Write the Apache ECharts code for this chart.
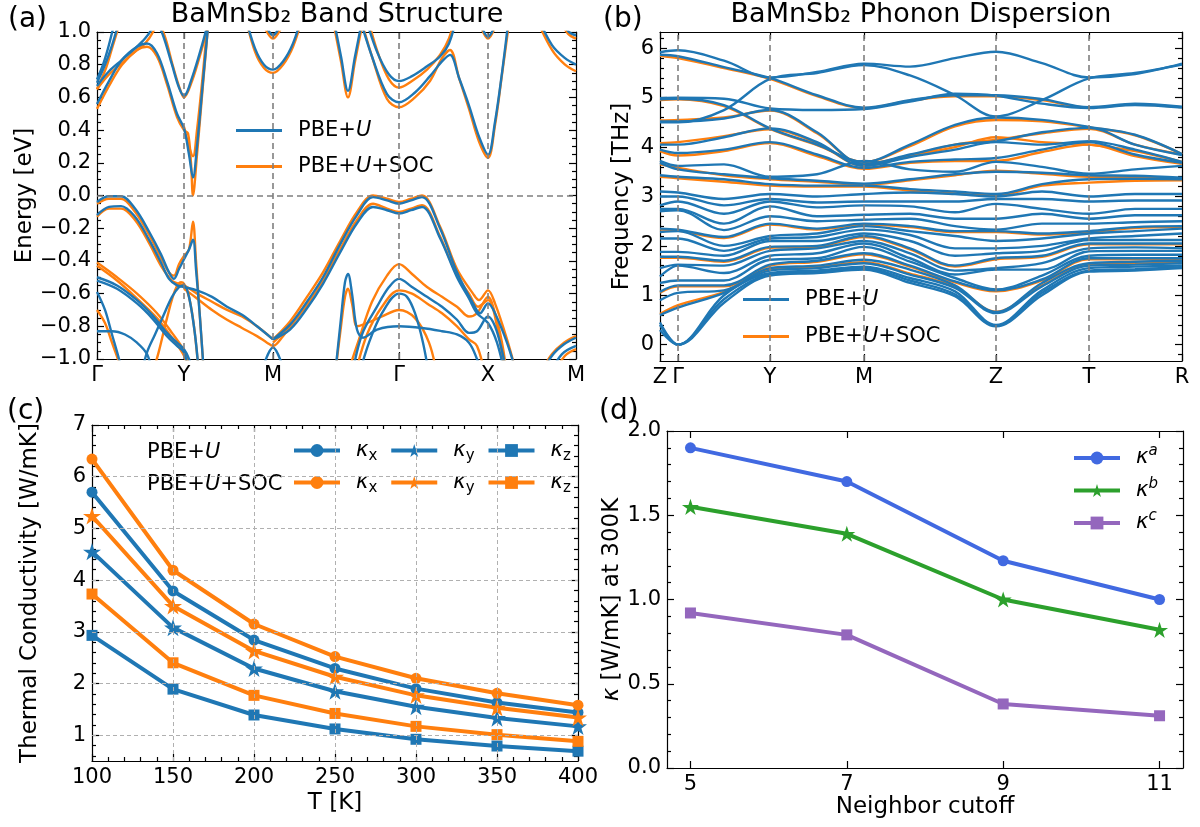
<!DOCTYPE html>
<html><head><meta charset="utf-8">
<script src="https://cdn.jsdelivr.net/npm/echarts@6/dist/echarts.min.js"></script>
<style>html,body{margin:0;padding:0;background:#fff}#c{width:1200px;height:827px}</style>
</head><body><div id="c"></div>
<script>
// ---------------- DATA ----------------
// (a) band structure: k-path positions and labels
const kPos = [0, 87, 176, 302, 391, 479];
const kLabels = ['Γ', 'Y', 'M', 'Γ', 'X', 'M'];
// bands as [k, E(eV)] points
const bandsPBE = [
 [[0,0.69],[8,0.8],[14,0.9],[20,1.02],[26,1.15]],
 [[0,0.71],[6,0.8],[11,0.9],[16,1.02],[21,1.15]],
 [[0,0.56],[12,0.70],[25,0.83],[40,0.91],[50,0.93],[60,0.87],[70,0.70],[80,0.50],[87,0.41],[92,0.25],[96,0.11],[100,0.30],[106,0.70],[112,1.10]],
 [[0,0.67],[12,0.76],[25,0.83],[38,0.90],[48,0.96],[55,1.02],[61,1.1]],
 [[57,1.1],[66,0.98],[75,0.80],[82,0.66],[87,0.61],[95,0.72],[105,0.92],[113,1.1]],
 [[148,1.1],[158,0.90],[167,0.80],[176,0.77],[186,0.82],[196,0.93],[205,1.1]],
 [[166,1.08],[176,0.98],[186,1.08]],
 [[236,1.1],[244,0.85],[251,0.64],[258,0.85],[266,1.1]],
 [[268,1.1],[280,0.88],[292,0.74],[302,0.70],[315,0.73],[330,0.79],[343,0.85],[352,0.93],[360,1.1]],
 [[262,1.1],[275,0.85],[290,0.62],[302,0.57],[318,0.63],[333,0.73],[345,0.82],[353,0.86],[362,0.72],[372,0.55],[382,0.36],[391,0.25],[398,0.45],[405,0.75],[412,1.1]],
 [[381,1.1],[391,0.97],[401,1.1]],
 [[440,1.1],[455,0.92],[468,0.84],[479,0.80]],
 [[462,1.1],[472,1.0],[479,0.98]],
 [[0,-0.04],[12,-0.005],[24,-0.005],[38,-0.08],[52,-0.22],[64,-0.36],[72,-0.47],[77,-0.51],[82,-0.45],[87,-0.39],[92,-0.33],[96,-0.27],[99,-0.45],[103,-0.75],[107,-1.1]],
 [[0,-0.12],[12,-0.07],[24,-0.065],[38,-0.13],[52,-0.27],[64,-0.41],[72,-0.51],[80,-0.55],[87,-0.56],[100,-0.58],[115,-0.62],[130,-0.68],[145,-0.73],[160,-0.80],[176,-0.88]],
 [[0,-0.50],[20,-0.55],[40,-0.64],[55,-0.73],[70,-0.84],[80,-0.90],[87,-0.94],[92,-1.0],[96,-1.1]],
 [[0,-0.52],[20,-0.57],[40,-0.66],[55,-0.75],[70,-0.86],[80,-0.92],[87,-0.96],[92,-1.1]],
 [[44,-1.1],[50,-0.96],[58,-0.85],[66,-0.74],[75,-0.62],[82,-0.56],[87,-0.55],[92,-0.62],[98,-0.85],[102,-1.1]],
 [[0,-0.59],[8,-0.70],[15,-0.85],[22,-1.0],[26,-1.1]],
 [[0,-0.83],[15,-0.83],[28,-0.85],[40,-0.90],[50,-0.97],[56,-1.1]],
 [[166,-1.05],[176,-0.93],[186,-1.05]],
 [[176,-0.88],[193,-0.79],[210,-0.65],[226,-0.50],[243,-0.30],[260,-0.12],[276,-0.01],[290,-0.03],[302,-0.05],[314,-0.03],[325,-0.01],[343,-0.20],[360,-0.47],[376,-0.66],[383,-0.72],[391,-0.66],[398,-0.72],[410,-0.90],[420,-1.1]],
 [[176,-0.88],[193,-0.82],[210,-0.69],[226,-0.54],[243,-0.35],[260,-0.17],[276,-0.07],[290,-0.09],[302,-0.11],[314,-0.09],[325,-0.07],[343,-0.26],[360,-0.50],[372,-0.63],[380,-0.72],[391,-0.78],[400,-0.90],[408,-1.1]],
 [[238,-1.1],[244,-0.75],[248,-0.53],[251,-0.48],[255,-0.60],[260,-0.82],[266,-0.87],[280,-0.82],[302,-0.80],[325,-0.81],[345,-0.83],[360,-0.85],[372,-0.90],[380,-1.0],[385,-1.1]],
 [[255,-1.1],[265,-0.85],[280,-0.68],[292,-0.56],[302,-0.51],[315,-0.56],[330,-0.62],[345,-0.68],[360,-0.76],[372,-0.84],[380,-0.83],[391,-0.74],[398,-0.80],[405,-0.95],[410,-1.1]],
 [[262,-1.1],[272,-0.90],[285,-0.72],[302,-0.60],[310,-0.62],[318,-0.72],[326,-0.90],[332,-1.1]],
 [[444,-1.1],[455,-0.98],[467,-0.91],[479,-0.87]],
 [[452,-1.1],[465,-0.97],[479,-0.92]]
];
const bandsSOC = [
 [[0,0.65],[9,0.78],[15,0.9],[21,1.02],[27,1.15]],
 [[0,0.53],[12,0.67],[25,0.80],[40,0.89],[50,0.91],[60,0.85],[70,0.68],[80,0.48],[87,0.40],[91,0.38],[94,0.2],[96,0.0],[100,0.25],[106,0.68],[112,1.1]],
 [[87,0.42],[92,0.3],[96,0.24],[100,0.4],[106,0.75],[111,1.1]],
 [[0,0.65],[12,0.74],[25,0.81],[38,0.88],[48,0.93],[56,1.0],[62,1.1]],
 [[59,1.1],[68,0.97],[76,0.79],[83,0.65],[87,0.60],[95,0.70],[105,0.90],[114,1.1]],
 [[148,1.1],[158,0.88],[167,0.78],[176,0.75],[186,0.80],[196,0.91],[206,1.1]],
 [[164,1.08],[176,0.96],[188,1.08]],
 [[235,1.1],[244,0.82],[251,0.60],[258,0.82],[267,1.1]],
 [[270,1.1],[281,0.87],[292,0.71],[302,0.66],[315,0.70],[330,0.77],[343,0.86],[352,0.96],[358,1.1]],
 [[263,1.1],[276,0.83],[290,0.59],[302,0.54],[318,0.60],[333,0.70],[345,0.84],[353,0.89],[362,0.72],[372,0.53],[382,0.33],[391,0.23],[398,0.43],[405,0.74],[413,1.1]],
 [[380,1.1],[391,0.96],[402,1.1]],
 [[438,1.1],[455,0.89],[468,0.80],[479,0.76]],
 [[460,1.1],[471,0.99],[479,0.96]],
 [[0,-0.05],[12,-0.02],[24,-0.02],[38,-0.10],[52,-0.24],[64,-0.38],[72,-0.47],[77,-0.49],[82,-0.42],[87,-0.37],[92,-0.33],[96,-0.16],[99,-0.40],[103,-0.75],[107,-1.1]],
 [[0,-0.13],[12,-0.08],[24,-0.08],[38,-0.15],[52,-0.29],[64,-0.43],[72,-0.50],[77,-0.53],[87,-0.55],[100,-0.60],[115,-0.65],[130,-0.70],[145,-0.74],[160,-0.80],[176,-0.88]],
 [[87,-0.57],[100,-0.63],[115,-0.70],[130,-0.76],[145,-0.81],[160,-0.86],[170,-0.90],[176,-0.92],[186,-0.86],[196,-0.78],[205,-0.70]],
 [[0,-0.41],[20,-0.50],[40,-0.60],[60,-0.72],[75,-0.84],[87,-0.95],[95,-1.1]],
 [[0,-0.43],[20,-0.52],[40,-0.63],[60,-0.75],[75,-0.87],[87,-0.98],[93,-1.1]],
 [[0,-0.70],[8,-0.78],[15,-0.90],[22,-1.02],[26,-1.1]],
 [[55,-1.1],[62,-0.95],[70,-0.75],[78,-0.58],[84,-0.53],[87,-0.54],[92,-0.62],[97,-0.80],[102,-1.1]],
 [[176,-0.88],[193,-0.77],[210,-0.62],[226,-0.47],[243,-0.28],[260,-0.10],[276,0.0],[290,-0.02],[302,-0.04],[314,-0.02],[325,0.0],[343,-0.19],[360,-0.45],[376,-0.60],[382,-0.64],[391,-0.58],[398,-0.66],[410,-0.88],[420,-1.1]],
 [[176,-0.90],[193,-0.80],[210,-0.67],[226,-0.52],[243,-0.33],[260,-0.15],[276,-0.05],[290,-0.08],[302,-0.10],[314,-0.08],[325,-0.06],[343,-0.25],[360,-0.49],[372,-0.60],[381,-0.68],[391,-0.64],[400,-0.80],[408,-1.1]],
 [[238,-1.1],[244,-0.80],[248,-0.62],[251,-0.57],[255,-0.66],[260,-0.80],[266,-0.79],[285,-0.74],[302,-0.70],[318,-0.75],[332,-0.90],[340,-1.1]],
 [[250,-1.1],[262,-0.88],[275,-0.65],[290,-0.49],[302,-0.42],[315,-0.48],[330,-0.56],[345,-0.62],[360,-0.68],[372,-0.74],[380,-0.72],[391,-0.62],[398,-0.72],[405,-0.90],[410,-1.1]],
 [[258,-1.1],[270,-0.85],[285,-0.68],[302,-0.58],[315,-0.60],[330,-0.66],[345,-0.72],[360,-0.80],[372,-0.88],[380,-0.92],[388,-1.1]],
 [[442,-1.1],[455,-0.97],[467,-0.90],[479,-0.86]],
 [[456,-1.1],[468,-0.98],[479,-0.94]]
];

// (b) phonon dispersion: sample positions along path, high-symmetry points
const phK = [0, 18, 64, 110, 157, 204, 250, 295, 336, 382, 429, 475, 522];
const phHS = [0, 18, 110, 204, 336, 429, 522];
const phLabels = ['Z', 'Γ', 'Y', 'M', 'Z', 'T', 'R'];
// frequencies (THz) at phK for each branch
const phononPBE = [
 [0.30,0.00,0.85,1.40,1.45,1.52,1.25,0.98,0.37,1.00,1.48,1.50,1.55],
 [0.40,0.00,0.92,1.42,1.48,1.55,1.30,1.02,0.38,1.05,1.50,1.53,1.57],
 [0.45,0.00,1.00,1.45,1.50,1.58,1.35,1.08,0.40,1.10,1.55,1.58,1.60],
 [0.60,0.75,1.05,1.50,1.55,1.65,1.42,1.15,0.64,1.18,1.60,1.62,1.65],
 [0.90,1.05,1.10,1.55,1.60,1.72,1.52,1.20,0.66,1.25,1.65,1.68,1.70],
 [1.07,1.20,1.20,1.62,1.70,1.85,1.60,1.28,1.10,1.32,1.75,1.75,1.75],
 [1.25,1.30,1.30,1.72,1.75,1.98,1.68,1.35,1.12,1.40,1.80,1.82,1.82],
 [1.38,1.60,1.45,1.80,1.85,2.05,1.75,1.42,1.52,1.52,1.89,1.90,1.90],
 [1.55,1.62,1.60,1.90,1.95,2.10,1.85,1.50,1.55,1.65,1.95,1.97,1.95],
 [1.78,1.78,1.70,1.98,2.00,2.20,1.95,1.60,1.75,1.80,2.05,2.05,2.05],
 [1.88,1.88,1.80,2.10,2.10,2.25,2.10,1.80,1.85,1.90,2.12,2.12,2.12],
 [2.15,2.15,1.90,2.15,2.18,2.33,2.22,1.95,1.95,2.00,2.15,2.20,2.25],
 [2.28,2.30,2.00,2.20,2.25,2.40,2.30,2.20,2.10,2.15,2.25,2.30,2.35],
 [2.35,2.33,2.18,2.45,2.35,2.45,2.40,2.30,2.30,2.25,2.30,2.38,2.40],
 [2.70,2.72,2.32,2.60,2.50,2.53,2.55,2.40,2.33,2.45,2.45,2.48,2.50],
 [2.75,2.75,2.45,2.80,2.60,2.63,2.65,2.55,2.55,2.65,2.55,2.62,2.62],
 [2.82,2.90,2.65,2.90,2.78,2.82,2.80,2.68,2.85,2.75,2.65,2.75,2.75],
 [3.00,3.00,2.82,2.95,2.88,2.90,2.90,2.90,2.95,2.95,2.90,2.92,2.92],
 [3.10,3.08,2.95,3.05,3.00,3.05,3.08,3.05,3.00,3.10,3.00,3.05,3.05],
 [3.43,3.40,3.35,3.25,3.22,3.22,3.15,3.10,3.05,3.25,3.35,3.36,3.35],
 [3.68,3.55,3.45,3.37,3.32,3.26,3.35,3.45,3.50,3.48,3.43,3.42,3.38],
 [3.72,3.62,3.65,3.40,3.45,3.72,3.55,3.50,3.70,3.60,3.46,3.55,3.62],
 [3.95,3.88,3.95,4.10,3.85,3.58,3.70,3.75,3.78,3.95,4.10,3.85,3.68],
 [4.05,4.05,4.20,4.38,4.10,3.62,3.80,3.95,4.10,4.05,4.12,3.95,3.70],
 [4.52,4.52,4.58,4.75,4.30,3.65,3.85,4.05,4.12,4.30,4.39,4.05,3.84],
 [4.97,4.98,4.85,4.38,4.05,3.70,4.05,4.45,4.60,4.55,4.41,4.25,3.86],
 [4.99,5.00,4.98,4.78,4.75,4.77,4.92,5.08,5.04,4.88,4.79,4.85,4.80],
 [4.50,4.50,4.75,5.38,5.50,5.66,5.45,5.05,4.62,4.95,5.39,5.50,5.67],
 [5.87,5.84,5.62,5.40,5.05,4.80,4.95,5.05,5.05,4.97,4.81,4.88,4.82],
 [5.92,5.96,5.75,5.41,5.52,5.69,5.63,5.80,5.93,5.70,5.41,5.48,5.69]
];
const phononSOC = [
 [0.62,0.80,1.07,1.52,1.57,1.67,1.44,1.17,0.67,1.20,1.62,1.64,1.67],
 [1.05,1.18,1.18,1.60,1.68,1.83,1.58,1.26,1.08,1.30,1.73,1.73,1.73],
 [1.76,1.76,1.68,1.96,1.98,2.18,1.93,1.58,1.73,1.78,2.03,2.03,2.03],
 [2.33,2.31,2.16,2.43,2.33,2.43,2.38,2.28,2.28,2.23,2.28,2.36,2.38],
 [3.40,3.37,3.30,3.22,3.20,3.20,3.12,3.06,3.02,3.22,3.28,3.32,3.33],
 [3.65,3.58,3.43,3.35,3.30,3.24,3.33,3.43,3.52,3.46,3.40,3.40,3.36],
 [3.92,3.83,3.92,4.08,3.82,3.56,3.68,3.72,3.72,3.90,4.05,3.82,3.66],
 [4.08,4.10,4.22,4.36,4.08,3.62,3.82,4.00,4.20,4.10,4.05,3.92,3.70],
 [4.54,4.55,4.60,4.74,4.28,3.66,3.83,4.05,4.15,4.28,4.37,4.05,3.85],
 [4.95,4.97,4.83,4.37,4.04,3.70,4.02,4.42,4.55,4.52,4.40,4.24,3.86],
 [5.85,5.80,5.60,5.38,5.03,4.79,4.94,5.03,5.03,4.95,4.80,4.86,4.81]
];

// (c) thermal conductivity vs temperature
const temps = [100, 150, 200, 250, 300, 350, 400];
const kxPBE = [5.70, 3.79, 2.84, 2.29, 1.90, 1.63, 1.44];
const kyPBE = [4.55, 3.08, 2.29, 1.85, 1.55, 1.33, 1.17];
const kzPBE = [2.93, 1.89, 1.39, 1.12, 0.92, 0.79, 0.69];
const kxSOC = [6.34, 4.19, 3.15, 2.52, 2.10, 1.81, 1.58];
const kySOC = [5.24, 3.50, 2.63, 2.13, 1.77, 1.53, 1.34];
const kzSOC = [3.73, 2.40, 1.77, 1.42, 1.17, 1.01, 0.88];

// (d) kappa at 300K vs neighbor cutoff
const cutoffs = [5, 7, 9, 11];
const kappaA = [1.90, 1.70, 1.23, 1.00];
const kappaB = [1.55, 1.39, 1.00, 0.82];
const kappaC = [0.92, 0.79, 0.38, 0.31];

// ---------------- CHART ----------------
const FONT = 'DejaVu Sans';
const TICK_FS = 21, NAME_FS = 23;
const BLUE = '#1f77b4', ORANGE = '#ff7f0e';
const STAR = 'path://M0,-10L2.245,-3.09L9.511,-3.09L3.633,1.18L5.878,8.09L0,3.82L-5.878,8.09L-3.633,1.18L-9.511,-3.09L-2.245,-3.09Z';

function seq(a, b, s) { const out = []; const n = Math.round((b - a) / s); for (let i = 0; i <= n; i++) out.push(Math.round((a + i * s) * 1e6) / 1e6); return out; }
function minorsOf(a, b, s, maj) { return seq(a, b, s).filter(v => !maj.some(m => Math.abs(m - v) < 1e-6)); }
const fmtNum = d => v => (v < -1e-9 ? '\u2212' : '') + Math.abs(v).toFixed(d);

const grids = [
 {left: 97, top: 32, width: 479, height: 327},
 {left: 660, top: 32, width: 522, height: 329},
 {left: 92, top: 425, width: 486, height: 336},
 {left: 667, top: 431, width: 516, height: 337}
].map(g => Object.assign({containLabel: false, outerBoundsMode: 'none', show: false}, g));

const xAxis = [], yAxis = [];
function axes(list, grid, pos, min, max, majors, minors, fmt, name, nameGap, nameStyle) {
  const opp = {bottom: 'top', top: 'bottom', left: 'right', right: 'left'}[pos];
  const ls = {color: '#000', width: 1.2};
  const common = {gridIndex: grid, type: 'value', min, max, splitLine: {show: false}, splitArea: {show: false}, silent: true, axisPointer: {show: false}};
  const idx = list.length;
  list.push(Object.assign({}, common, {
    position: pos, offset: 0,
    axisLine: {show: true, onZero: false, lineStyle: ls},
    axisTick: {show: true, inside: true, length: 7, customValues: majors, lineStyle: ls},
    axisLabel: {show: true, customValues: majors, formatter: fmt, margin: 6, color: '#000', fontFamily: FONT, fontSize: TICK_FS, hideOverlap: false, showMinLabel: true, showMaxLabel: true},
    name: name || '', nameLocation: 'middle', nameGap: nameGap || 0,
    nameTextStyle: Object.assign({color: '#000', fontFamily: FONT, fontSize: NAME_FS}, nameStyle || {})
  }));
  list.push(Object.assign({}, common, {
    position: opp, offset: 0,
    axisLine: {show: true, onZero: false, lineStyle: ls},
    axisTick: {show: true, inside: true, length: 7, customValues: majors, lineStyle: ls},
    axisLabel: {show: false}
  }));
  if (minors && minors.length) {
    [pos, opp].forEach(p => list.push(Object.assign({}, common, {
      position: p, offset: 0,
      axisLine: {show: false, onZero: false},
      axisTick: {show: true, inside: true, length: 4, customValues: minors, lineStyle: ls},
      axisLabel: {show: false}
    })));
  }
  return idx;
}

// (a)
const aYMaj = seq(-1, 1, 0.2);
const ax = axes(xAxis, 0, 'bottom', 0, 479, kPos, [], v => kLabels[kPos.indexOf(v)] || '', '', 0);
const ay = axes(yAxis, 0, 'left', -1, 1, aYMaj, minorsOf(-1, 1, 0.05, aYMaj), fmtNum(1), 'Energy [eV]', 55);
// (b)
const bYMaj = seq(0, 6, 1);
const bx = axes(xAxis, 1, 'bottom', 0, 522, phHS, [], v => phLabels[phHS.indexOf(v)] || '', '', 0);
const by = axes(yAxis, 1, 'left', -0.33, 6.33, bYMaj, minorsOf(-0.2, 6.2, 0.2, bYMaj), v => String(v), 'Frequency [THz]', 26);
// (c)
const cXMaj = seq(100, 400, 50), cYMaj = seq(1, 7, 1);
const cx = axes(xAxis, 2, 'bottom', 100, 400, cXMaj, minorsOf(100, 400, 10, cXMaj), v => String(v), 'T [K]', 31);
const cy = axes(yAxis, 2, 'left', 0.5, 7, cYMaj, minorsOf(0.6, 6.8, 0.2, cYMaj), v => String(v), 'Thermal Conductivity [W/mK]', 50);
// (d)
const dYMaj = seq(0, 2, 0.5);
const dx = axes(xAxis, 3, 'bottom', 4.7, 11.3, cutoffs, [], v => String(v), 'Neighbor cutoff', 24);
const dy = axes(yAxis, 3, 'left', 0, 2, dYMaj, minorsOf(0, 2, 0.1, dYMaj), fmtNum(1), '{i|κ} [W/mK] at 300K', 37,
  {rich: {i: {fontStyle: 'italic', fontFamily: FONT, fontSize: NAME_FS}}});

const series = [];
function bandSeries(name, data, color, xi, yi, w, z) {
  return {type: 'line', name, data, xAxisIndex: xi, yAxisIndex: yi, symbol: 'none', showSymbol: false, smooth: 0.35,
    lineStyle: {color, width: w}, itemStyle: {color}, silent: true, clip: true, z, emphasis: {disabled: true}};
}
// reference lines
const dashStyle = {color: '#7f7f7f', type: [6, 4], width: 1.6};
series.push({type: 'line', data: [[0, 0]], xAxisIndex: ax, yAxisIndex: ay, symbol: 'none', showSymbol: false, z: 5, silent: true,
  markLine: {silent: true, symbol: 'none', label: {show: false}, lineStyle: dashStyle, animation: false,
    data: kPos.slice(1, -1).map(v => ({xAxis: v})).concat([{yAxis: 0}])}});
series.push({type: 'line', data: [[0, 0]], xAxisIndex: bx, yAxisIndex: by, symbol: 'none', showSymbol: false, z: 5, silent: true,
  markLine: {silent: true, symbol: 'none', label: {show: false}, lineStyle: dashStyle, animation: false,
    data: phHS.slice(1, -1).map(v => ({xAxis: v}))}});
series.push({type: 'line', data: [[100, 1]], xAxisIndex: cx, yAxisIndex: cy, symbol: 'none', showSymbol: false, z: 1, silent: true,
  markLine: {silent: true, symbol: 'none', label: {show: false}, lineStyle: {color: '#b0b0b0', type: [4, 3], width: 1}, animation: false,
    data: cXMaj.slice(1, -1).map(v => ({xAxis: v})).concat(cYMaj.slice(0, -1).map(v => ({yAxis: v})))}});

bandsSOC.forEach(b => series.push(bandSeries('PBE+U+SOC', b, ORANGE, ax, ay, 2.4, 2)));
bandsPBE.forEach(b => series.push(bandSeries('PBE+U', b, BLUE, ax, ay, 2.4, 3)));
phononSOC.forEach(r => series.push(bandSeries('PBE+U+SOC', phK.map((k, i) => [k, r[i]]), ORANGE, bx, by, 2.4, 2)));
phononPBE.forEach(r => series.push(bandSeries('PBE+U', phK.map((k, i) => [k, r[i]]), BLUE, bx, by, 2.4, 3)));

function markSeries(name, ys, xs, color, symbol, size, xi, yi, w) {
  return {type: 'line', name, data: xs.map((x, i) => [x, ys[i]]), xAxisIndex: xi, yAxisIndex: yi, symbol, symbolSize: size, symbolKeepAspect: true,
    showSymbol: true, lineStyle: {color, width: w}, itemStyle: {color}, silent: true, z: 3, emphasis: {disabled: true}};
}
series.push(markSeries('κx PBE+U', kxPBE, temps, BLUE, 'circle', 11, cx, cy, 4));
series.push(markSeries('κy PBE+U', kyPBE, temps, BLUE, STAR, 18, cx, cy, 4));
series.push(markSeries('κz PBE+U', kzPBE, temps, BLUE, 'rect', 11, cx, cy, 4));
series.push(markSeries('κx SOC', kxSOC, temps, ORANGE, 'circle', 11, cx, cy, 4));
series.push(markSeries('κy SOC', kySOC, temps, ORANGE, STAR, 18, cx, cy, 4));
series.push(markSeries('κz SOC', kzSOC, temps, ORANGE, 'rect', 11, cx, cy, 4));
series.push(markSeries('κa', kappaA, cutoffs, '#4169e1', 'circle', 11, dx, dy, 4));
series.push(markSeries('κb', kappaB, cutoffs, '#2ca02c', STAR, 17, dx, dy, 4));
series.push(markSeries('κc', kappaC, cutoffs, '#9467bd', 'rect', 11, dx, dy, 4));

const baseText = {fontFamily: FONT, fontSize: 21, color: '#000'};
const pbeFmt = n => n === 'PBE+U' ? 'PBE+{i|U}' : 'PBE+{i|U}+SOC';
const pbeRich = {i: {fontStyle: 'italic', fontFamily: FONT, fontSize: 21, color: '#000'}};
const subRich = {k: {fontStyle: 'italic', fontFamily: FONT, fontSize: 21, lineHeight: 26, color: '#000'},
                 s: {fontFamily: FONT, fontSize: 15, lineHeight: 15, verticalAlign: 'bottom', color: '#000'}};
const supRich = {k: {fontStyle: 'italic', fontFamily: FONT, fontSize: 21, lineHeight: 28, color: '#000'},
                 s: {fontStyle: 'italic', fontFamily: FONT, fontSize: 15, lineHeight: 15, verticalAlign: 'top', color: '#000'}};
const legendBase = {padding: 0, selectedMode: false, itemWidth: 46, itemHeight: 16, lineStyle: {width: 4}};
const legend = [
  Object.assign({}, legendBase, {data: ['PBE+U', 'PBE+U+SOC'], orient: 'vertical', left: 236, top: 120, itemGap: 15, formatter: pbeFmt,
    icon: 'rect', itemHeight: 3, textStyle: Object.assign({}, baseText, {padding: [0, 0, 0, 11], rich: pbeRich})}),
  Object.assign({}, legendBase, {data: ['PBE+U', 'PBE+U+SOC'], orient: 'vertical', left: 743, top: 289, itemGap: 16, formatter: pbeFmt,
    icon: 'rect', itemHeight: 3, textStyle: Object.assign({}, baseText, {padding: [0, 0, 0, 11], rich: pbeRich})}),
  Object.assign({}, legendBase, {data: ['κx PBE+U', 'κy PBE+U', 'κz PBE+U'], orient: 'horizontal', left: 292, top: 440, itemGap: 12,
    formatter: n => '{k|κ}{s|' + n[1] + '}', textStyle: Object.assign({}, baseText, {padding: [0, 0, 0, 11], rich: subRich})}),
  Object.assign({}, legendBase, {data: ['κx SOC', 'κy SOC', 'κz SOC'], orient: 'horizontal', left: 292, top: 472, itemGap: 12,
    formatter: n => '{k|κ}{s|' + n[1] + '}', textStyle: Object.assign({}, baseText, {padding: [0, 0, 0, 11], rich: subRich})}),
  Object.assign({}, legendBase, {data: ['κa', 'κb', 'κc'], orient: 'vertical', left: 1072, top: 444, itemGap: 8, lineStyle: {width: 4},
    formatter: n => '{k|κ}{s|' + n[1] + '}', textStyle: Object.assign({}, baseText, {padding: [0, 0, 0, 11], rich: supRich})})
];

const txt = (x, y, text, size, align, rich) => ({type: 'text', x, y, silent: true,
  style: {text, fontFamily: FONT, fontSize: size, fill: '#000', align: align || 'left', verticalAlign: 'middle', rich}});
const graphic = [
  txt(8, 20, '(a)', 28), txt(603, 20, '(b)', 28), txt(7, 412, '(c)', 28), txt(599, 412, '(d)', 28),
  txt(337, 15, 'BaMnSb₂ Band Structure', 27, 'center'),
  txt(921, 15, 'BaMnSb₂ Phonon Dispersion', 27, 'center'),
  txt(147, 453, 'PBE+{i|U}', 21, 'left', pbeRich),
  txt(147, 485, 'PBE+{i|U}+SOC', 21, 'left', pbeRich)
];

const chart = echarts.init(document.getElementById('c'), null, {renderer: 'canvas'});
chart.setOption({animation: false, textStyle: {fontFamily: FONT}, grid: grids, xAxis, yAxis, series, legend, graphic});
</script></body></html>
